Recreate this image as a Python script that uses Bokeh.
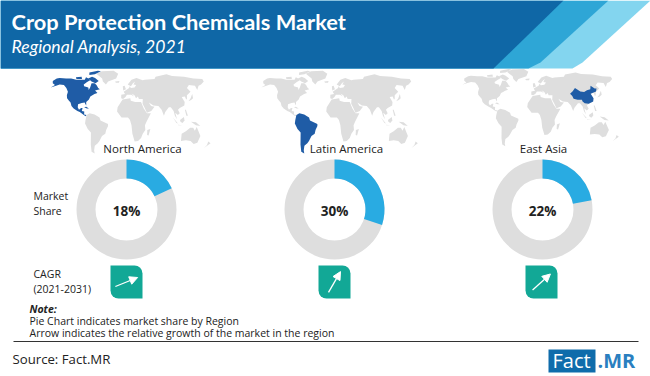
from math import pi, radians, cos, sin
from bokeh.plotting import figure
from bokeh.models import Range1d, Arrow, NormalHead
from bokeh.core.properties import value
from bokeh.embed import file_html
from bokeh.resources import INLINE

regions = ["North America", "Latin America", "East Asia"]
shares = [18, 30, 22]
share_labels = ["18%", "30%", "22%"]
arrow_angles = [22, 60, 42]
title = "Crop Protection Chemicals Market"
subtitle = "Regional Analysis, 2021"
notes = ["Pie Chart indicates market share by Region",
         "Arrow indicates the relative growth of the market in the region"]

north_america = [(-168,66),(-162,70),(-156,71),(-140,70),(-128,70),(-115,68),(-108,68),(-95,68),(-94,72),(-85,69),(-82,67),(-88,64),(-94,60),(-92,57),(-82,55),(-80,51),(-78,55),(-77,62),(-70,62),(-65,59),(-60,54),(-56,52),(-66,50),(-60,46),(-66,44),(-70,42),(-74,40),(-76,35),(-81,31),(-80,25),(-82,27),(-84,30),(-90,29),(-97,27),(-97,22),(-94,18),(-90,21),(-87,21),(-88,16),(-83,15),(-83,10),(-78,9),(-80,7),(-85,10),(-92,14),(-97,16),(-105,20),(-110,24),(-113,30),(-117,33),(-122,37),(-124,42),(-124,48),(-130,54),(-138,59),(-148,60),(-155,58),(-165,55),(-158,59),(-165,62)]
na_islands = [
    [(-80,73),(-72,71),(-62,66),(-68,62),(-78,65),(-88,70)],
    [(-118,72),(-105,73),(-102,69),(-115,69)],
    [(-90,80),(-70,83),(-62,82),(-75,77),(-88,76)],
    [(-84,22),(-80,23),(-74,20),(-78,20)],
]
greenland = [(-72,78),(-60,82),(-30,83),(-18,78),(-22,70),(-40,65),(-44,60),(-52,65),(-55,70)]
south_america = [(-78,9),(-72,12),(-62,10),(-52,5),(-50,0),(-35,-6),(-35,-9),(-39,-16),(-41,-22),(-48,-26),(-54,-34),(-58,-38),(-65,-42),(-68,-50),(-68,-55),(-74,-52),(-73,-40),(-70,-20),(-76,-14),(-81,-5),(-80,1)]
africa = [(-17,15),(-16,22),(-10,30),(-6,35),(10,37),(11,33),(20,31),(32,31),(37,20),(43,12),(51,12),(42,-2),(39,-8),(40,-16),(35,-22),(32,-29),(26,-34),(19,-35),(14,-22),(12,-8),(9,1),(5,5),(-8,5)]
eurasia = [(-9,37),(-9,43),(-1,44),(-4,48),(4,52),(8,54),(9,57),(12,54),(20,55),(24,59),(18,60),(22,65),(17,62),(12,57),(5,60),(14,68),(26,71),(40,67),(45,68),(68,69),(72,73),(100,77),(112,74),(140,73),(160,70),(180,69),(180,65),(170,60),(163,58),(156,51),(155,58),(142,59),(135,54),(140,48),(130,42),(128,36),(126,35),(125,40),(118,39),(122,31),(120,25),(110,21),(106,18),(109,12),(105,9),(100,13),(103,2),(99,8),(97,16),(92,22),(88,22),(80,14),(77,8),(73,18),(67,24),(57,25),(48,30),(52,24),(59,23),(52,16),(43,13),(39,21),(35,28),(36,36),(28,36),(26,40),(22,37),(19,42),(13,45),(18,40),(12,43),(3,43),(0,39),(-5,36)]
australia = [(114,-22),(122,-18),(130,-12),(136,-12),(140,-17),(143,-11),(153,-26),(150,-37),(143,-39),(135,-34),(125,-33),(115,-34)]
islands = [
    [(-5,50),(1,52),(-2,58),(-6,57)],
    [(-24,65),(-14,66),(-15,63),(-22,63)],
    [(44,-16),(50,-14),(47,-25),(44,-24)],
    [(130,32),(136,34),(141,37),(142,44),(140,42),(136,37)],
    [(95,5),(105,-5),(102,-4)],
    [(109,1),(117,6),(118,0),(114,-4),(110,-2)],
    [(131,-2),(141,-3),(150,-9),(141,-8)],
    [(105,-7),(114,-8),(106,-8)],
    [(120,18),(122,18),(125,8),(122,8)],
    [(172,-35),(178,-38),(168,-46),(172,-41)],
]
china = [(74,39),(80,43),(87,49),(97,43),(105,42),(112,45),(120,47),(123,53),(130,48),(134,48),(131,43),(122,40),(118,39),(122,31),(120,25),(110,21),(102,22),(98,25),(97,28),(88,28),(80,30),(78,35)]

W, H = 650, 376
GREY, DARK, SKY, TEAL, INK = "#dedede", "#1f5ca6", "#29abe2", "#12a896", "#222222"
FONT = value("Open Sans")

p = figure(width=W, height=H, output_backend="svg", toolbar_location=None,
           x_range=Range1d(0, W), y_range=Range1d(0, H), min_border=0)
p.axis.visible = False
p.grid.visible = False
p.outline_line_color = None
p.background_fill_color = "white"

def Y(y):
    return H - y

def band(pts, color):
    p.patch([a for a, _ in pts], [Y(b) for _, b in pts], fill_color=color, line_color=None)

# world maps
def project(poly, m):
    x0, sx, y0, sy = m
    xs = [x0 + sx * lon * (1 - 0.25 * (lat / 90) ** 2) for lon, lat in poly]
    ys = [Y(y0 - sy * lat) for lon, lat in poly]
    return xs, ys

def draw(polys, m, color):
    for poly in polys:
        xs, ys = project(poly, m)
        p.patch(xs, ys, fill_color=color, line_color=None)

maps = [(125, 0.5, 120, 0.6), (334, 0.49, 120, 0.6), (535, 0.49, 115, 0.56)]
rest = [greenland, africa, eurasia, australia] + islands
for i, m in enumerate(maps):
    na = [north_america] + na_islands
    draw(rest, m, GREY)
    draw(na, m, DARK if i == 0 else GREY)
    draw([south_america], m, DARK if i == 1 else GREY)
    if i == 2:
        draw([china], m, DARK)

# header
band([(0, 0), (650, 0), (582, 62), (572, 68), (0, 68)], "#83d5ef")
band([(0, 0), (608, 0), (540, 62), (528, 68), (0, 68)], "#2ea6d6")
band([(0, 0), (563, 0), (493, 68), (0, 68)], "#0f67a6")

def label(x, y, s, size="10.5px", style="normal", font=FONT, color=INK, align="left"):
    p.text([x], [Y(y)], text=[s], text_font=font, text_font_style=style, text_font_size=size,
           text_color=color, text_align=align, text_baseline="middle")

label(11, 21, title, size="21.8px", style="bold", font=value("Lato"), color="white")
label(11, 46, subtitle, size="17.6px", style="italic", font=value("Lato"), color="white")

# donuts
centers = [126, 334, 542]
name_x = [142, 346, 543]
tiles = [110, 318, 525]
CY = 209
for cx, nx, name, s, lab, ang, tile in zip(centers, name_x, regions, shares, share_labels, arrow_angles, tiles):
    p.annular_wedge([cx], [Y(CY)], inner_radius=31, outer_radius=50, start_angle=0, end_angle=2 * pi,
                    fill_color=GREY, line_color=None)
    p.annular_wedge([cx], [Y(CY)], inner_radius=31, outer_radius=50, start_angle=pi / 2,
                    end_angle=pi / 2 - 2 * pi * s / 100, direction="clock", fill_color=SKY, line_color=None)
    label(cx, CY + 1, lab, size="13.5px", style="bold", align="center")
    label(nx, 148, name, size="11.5px", align="center")
    p.quad(left=[tile], right=[tile + 32], bottom=[Y(298)], top=[Y(265)], fill_color=TEAL, line_color=None,
           border_radius=(0, 8, 0, 8))
    mx, my, L = tile + 16, 281.5, 24
    dx, dy = L / 2 * cos(radians(ang)), L / 2 * sin(radians(ang))
    p.add_layout(Arrow(end=NormalHead(size=8, fill_color="white", line_color="white"),
                       x_start=mx - dx, y_start=Y(my + dy), x_end=mx + dx, y_end=Y(my - dy),
                       line_color="white", line_width=1.3))

label(33, 195, "Market")
label(33, 210, "Share")
label(33, 273, "CAGR")
label(33, 288, "(2021-2031)")
label(29, 308, "Note:", style="bold italic")
label(29, 320, notes[0])
label(29, 332, notes[1])
p.segment([13], [Y(341)], [638], [Y(341)], line_color="#333333", line_width=1)
label(12, 358, "Source: Fact.MR", size="13.2px")

# logo
p.quad(left=[548], right=[595], bottom=[Y(372)], top=[Y(349)], fill_color="#0f6cab", line_color=None)
label(552, 360, "Fact", size="20px", color="white")
label(597, 360, ".MR", size="20px", style="bold", color="#2a7fc0")

open("out.html", "w").write(file_html(p, INLINE))
